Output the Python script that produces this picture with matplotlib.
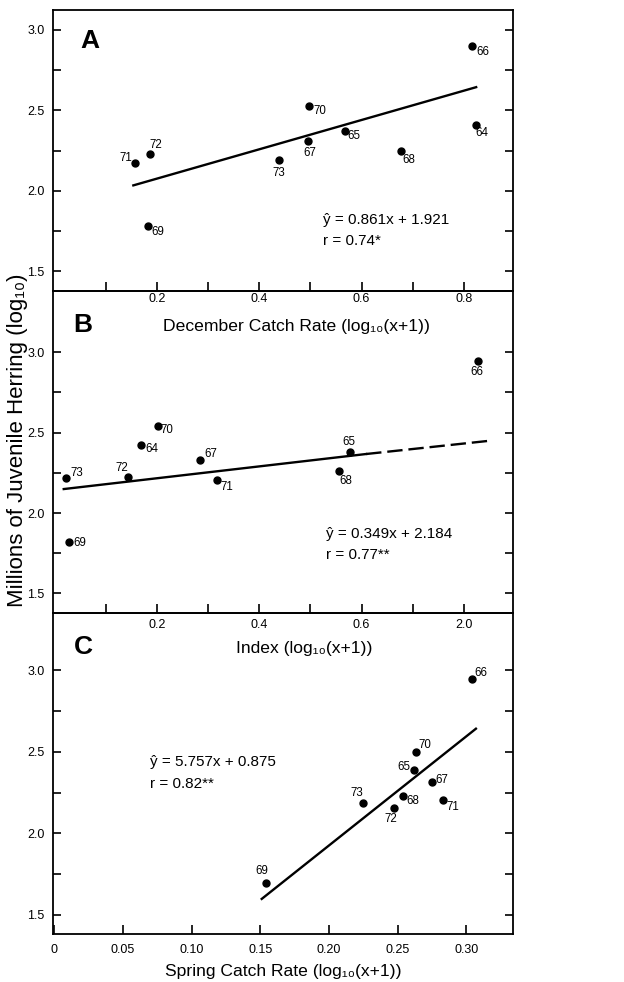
import matplotlib
matplotlib.use("Agg")
import matplotlib.pyplot as plt

plt.rcParams["font.family"] = ["Liberation Sans", "DejaVu Sans"]

# ---- data ----
years = ["66", "64", "70", "65", "67", "68", "73", "72", "71", "69"]

a_x = [0.816, 0.824, 0.498, 0.567, 0.496, 0.677, 0.438, 0.187, 0.158, 0.182]
a_y = [2.90, 2.41, 2.528, 2.369, 2.308, 2.244, 2.193, 2.226, 2.170, 1.780]
a_fit_x = [0.154, 0.824]
a_fit_y = [2.033, 2.644]

b_x = [0.828, 0.169, 0.202, 0.577, 0.285, 0.556, 0.023, 0.143, 0.317, 0.029]
b_y = [2.948, 2.423, 2.541, 2.380, 2.330, 2.263, 2.220, 2.222, 2.205, 1.822]
b_fit_x = [0.018, 0.609]
b_fit_y = [2.149, 2.367]
b_ext_x = [0.609, 0.852]
b_ext_y = [2.367, 2.450]

c_x = [0.304, None, 0.263, 0.262, 0.275, 0.254, 0.225, 0.247, 0.283, 0.154]
c_y = [2.945, None, 2.499, 2.390, 2.314, 2.228, 2.185, 2.158, 2.203, 1.698]
c_fit_x = [0.151, 0.307]
c_fit_y = [1.598, 2.641]

ab_ticks = [0.2, 0.4, 0.6, 0.8]
ab_minor = [0.1, 0.3, 0.5, 0.7]
a_ticklabels = ["0.2", "0.4", "0.6", "0.8"]
b_ticklabels = ["0.2", "0.4", "0.6", "2.0"]
c_ticks = [0, 0.05, 0.10, 0.15, 0.20, 0.25, 0.30]
c_ticklabels = ["0", "0.05", "0.10", "0.15", "0.20", "0.25", "0.30"]

# label offsets (pixels, y up) per year, per panel
a_off = {"66": (10.7, -5.7), "64": (6, -8.7), "70": (10.7, -4.7), "65": (9.7, -5),
         "67": (1.7, -12), "68": (8.3, -8.7), "73": (0, -13.3), "72": (5.3, 9.7),
         "71": (-9.7, 5.3), "69": (10.3, -5.7)}
b_off = {"66": (-1.7, -11), "70": (9.3, -4), "64": (10.7, -4), "67": (10, 5.7),
         "65": (-0.7, 10.3), "68": (7, -10), "73": (10.7, 5), "72": (-6.3, 9),
         "71": (10.3, -7.3), "69": (10, -1.7)}
c_off = {"66": (9.3, 6.3), "70": (9.7, 7.3), "65": (-10.7, 2.3), "67": (9.7, 2.3),
         "71": (10, -6.7), "68": (10, -4.7), "73": (-6.7, 10.3), "72": (-3, -11.7),
         "69": (-3.7, 12)}

W, H = 624, 982
fig = plt.figure(figsize=(W / 100, H / 100), dpi=100)


def px_axes(top, bottom, left=53, right=513):
    ax = fig.add_axes([left / W, 1 - bottom / H, (right - left) / W, (bottom - top) / H])
    ax.patch.set_alpha(0)
    for s in ax.spines.values():
        s.set_linewidth(1.3)
    return ax


def style(ax, pad):
    ax.set_yticks([1.5, 2.0, 2.5, 3.0])
    ax.set_yticks([1.75, 2.25, 2.75], minor=True)
    ax.set_yticklabels(["1.5", "2.0", "2.5", "3.0"])
    ax.tick_params(axis="y", which="both", direction="in", left=True, right=True,
                   length=6, width=1.2, labelsize=9, pad=6)
    ax.tick_params(axis="x", which="both", direction="in", top=False, bottom=True,
                   length=6.5, width=1.2, labelsize=9, pad=pad)


def points(ax, xs, ys, offs):
    for yr, x, y in zip(years, xs, ys):
        if x is None:
            continue
        ax.plot(x, y, "o", color="black", ms=5)
        dx, dy = offs[yr]
        ax.annotate(yr, (x, y), xytext=(dx * 0.72, dy * 0.72), textcoords="offset points",
                    ha="center", va="center", fontsize=8.3)


# Panel A
ax_a = px_axes(10, 291)
ax_a.set_xlim(-0.003, 0.896)
ax_a.set_ylim(1.376, 3.124)
style(ax_a, 1.5)
ax_a.set_xticks(ab_ticks)
ax_a.set_xticks(ab_minor, minor=True)
ax_a.set_xticklabels(a_ticklabels)
ax_a.plot(a_fit_x, a_fit_y, color="black", lw=1.7)
points(ax_a, a_x, a_y, a_off)
ax_a.text(0.524, 1.82, "ŷ = 0.861x + 1.921", fontsize=11, va="center", ha="left")
ax_a.text(0.524, 1.686, "r = 0.74*", fontsize=11, va="center", ha="left")
ax_a.text(0.08, 0.89, "A", transform=ax_a.transAxes, fontsize=19, fontweight="bold",
          ha="center", va="center")
ax_a.set_xlabel("December Catch Rate (log₁₀(x+1))", fontsize=12.6)
ax_a.xaxis.set_label_coords(0.53, -0.128)
ax_a.xaxis.label.set_va("center")

# Panel B
ax_b = px_axes(291, 613)
ax_b.set_xlim(-0.003, 0.896)
ax_b.set_ylim(1.378, 3.381)
style(ax_b, 4)
ax_b.set_xticks(ab_ticks)
ax_b.set_xticks(ab_minor, minor=True)
ax_b.set_xticklabels(b_ticklabels)
ax_b.plot(b_fit_x, b_fit_y, color="black", lw=1.7)
ax_b.plot(b_ext_x, b_ext_y, color="black", lw=1.7, dashes=(6.5, 2.5))
points(ax_b, b_x, b_y, b_off)
ax_b.text(0.531, 1.867, "ŷ = 0.349x + 2.184", fontsize=11, va="center", ha="left")
ax_b.text(0.531, 1.739, "r = 0.77**", fontsize=11, va="center", ha="left")
ax_b.text(0.065, 0.894, "B", transform=ax_b.transAxes, fontsize=19, fontweight="bold",
          ha="center", va="center")
ax_b.set_xlabel("Index (log₁₀(x+1))", fontsize=12.6)
ax_b.xaxis.set_label_coords(0.546, -0.109)
ax_b.xaxis.label.set_va("center")

# Panel C
ax_c = px_axes(613, 934)
ax_c.set_xlim(-0.001, 0.334)
ax_c.set_ylim(1.383, 3.35)
style(ax_c, 7)
ax_c.set_xticks(c_ticks)
ax_c.set_xticklabels(c_ticklabels)
ax_c.plot(c_fit_x, c_fit_y, color="black", lw=1.7)
points(ax_c, c_x, c_y, c_off)
ax_c.text(0.0695, 2.435, "ŷ = 5.757x + 0.875", fontsize=11, va="center", ha="left")
ax_c.text(0.0695, 2.302, "r = 0.82**", fontsize=11, va="center", ha="left")
ax_c.text(0.067, 0.894, "C", transform=ax_c.transAxes, fontsize=19, fontweight="bold",
          ha="center", va="center")
ax_c.set_xlabel("Spring Catch Rate (log₁₀(x+1))", fontsize=12.6)
ax_c.xaxis.set_label_coords(0.50, -0.118)
ax_c.xaxis.label.set_va("center")

fig.text(18 / W, 1 - 440 / H, "Millions of Juvenile Herring (log₁₀)", rotation=90,
         fontsize=16, ha="center", va="center")

fig.savefig("out.png", dpi=100)
